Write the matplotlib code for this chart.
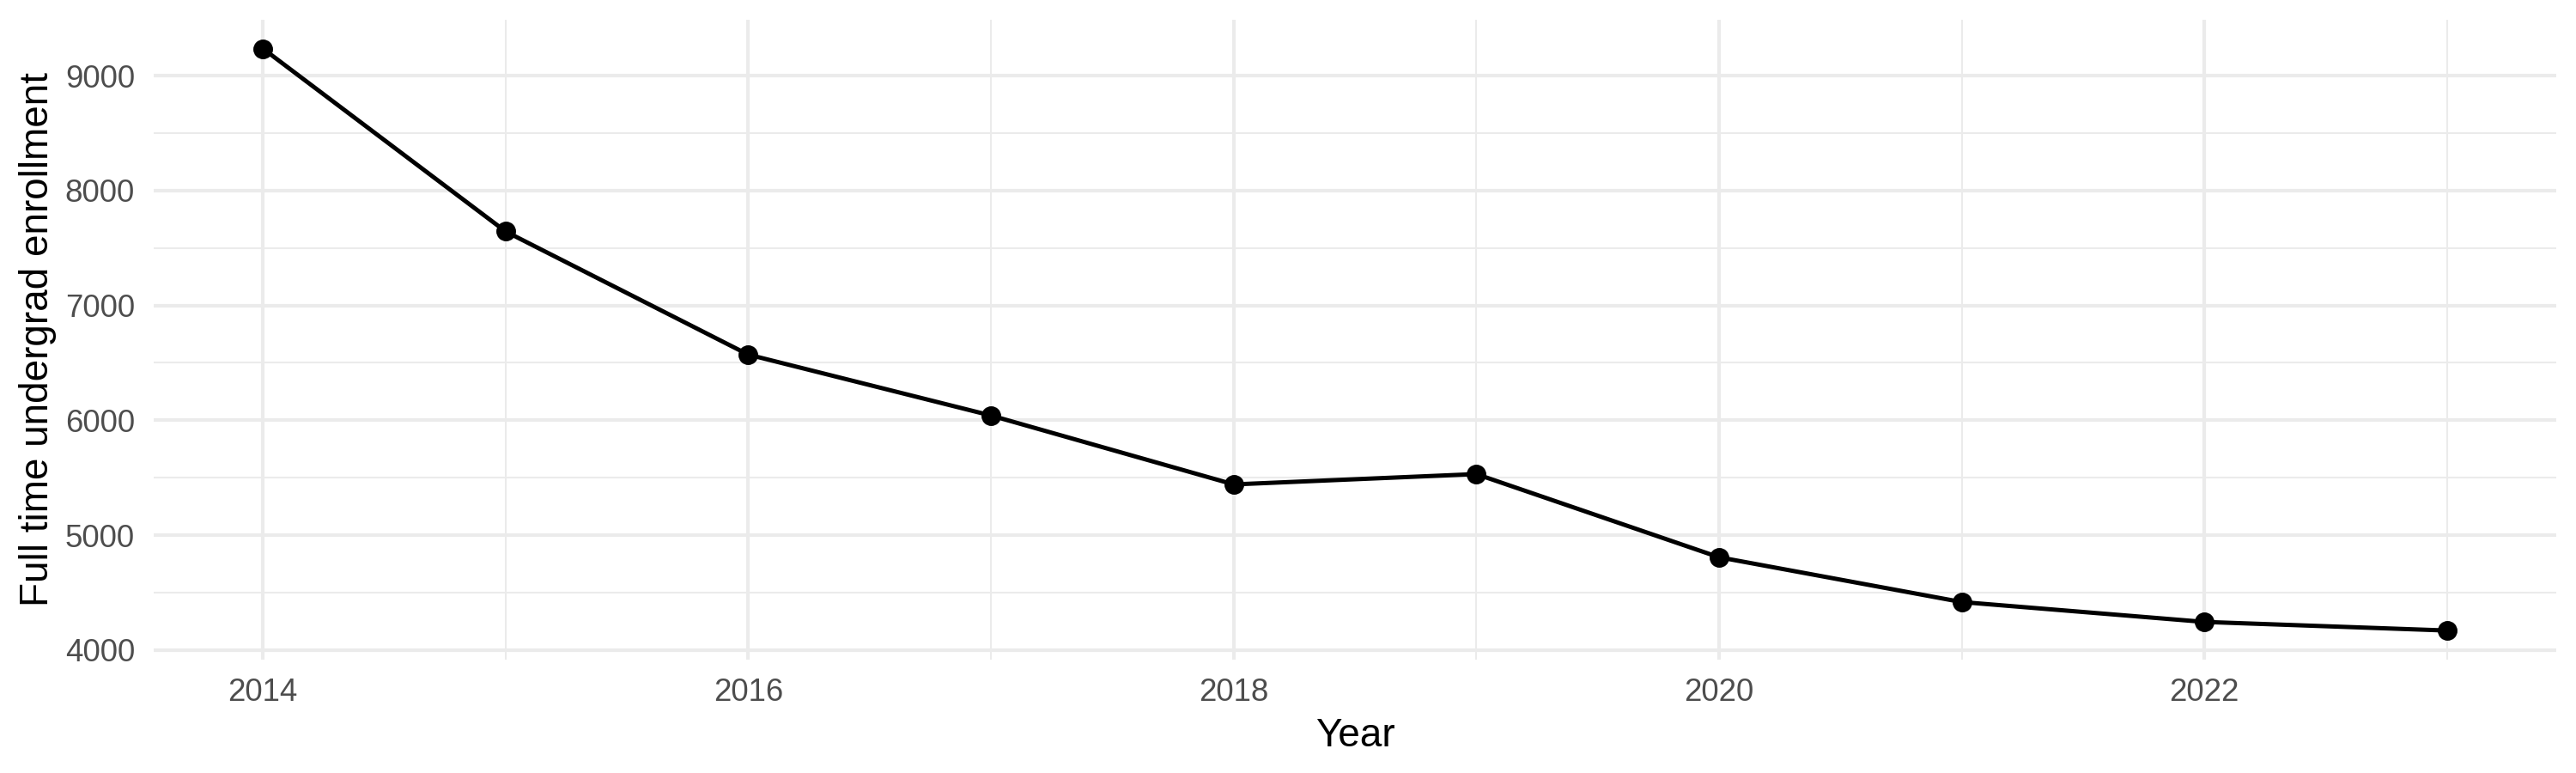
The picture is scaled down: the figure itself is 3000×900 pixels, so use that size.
import matplotlib
matplotlib.use("Agg")
import matplotlib.pyplot as plt
from matplotlib.ticker import MultipleLocator

# enrollment by year
years = [2014, 2015, 2016, 2017, 2018, 2019, 2020, 2021, 2022, 2023]
enrollment = [9236, 7644, 6572, 6042, 5442, 5532, 4808, 4418, 4245, 4170]

x_ticks = [2014, 2016, 2018, 2020, 2022]
y_ticks = [4000, 5000, 6000, 7000, 8000, 9000]

plt.rcParams['font.family'] = ['Liberation Sans', 'DejaVu Sans']

fig = plt.figure(figsize=(10, 3), dpi=300)
ax = fig.add_axes([179 / 3000, 1 - 768 / 900, (2977 - 179) / 3000, (768 - 22.7) / 900])

ax.plot(years, enrollment, color='black', linewidth=1.2, marker='o',
        markersize=4.5, zorder=3)

# ggplot-like 5% expansion
xr = max(years) - min(years)
yr = max(enrollment) - min(enrollment)
ax.set_xlim(min(years) - 0.05 * xr, max(years) + 0.05 * xr)
ax.set_ylim(min(enrollment) - 0.05 * yr, max(enrollment) + 0.05 * yr)

ax.set_xticks(x_ticks)
ax.set_yticks(y_ticks)
ax.xaxis.set_minor_locator(MultipleLocator(1))
ax.yaxis.set_minor_locator(MultipleLocator(500))

ax.grid(which='major', color='#EBEBEB', linewidth=1.0)
ax.grid(which='minor', color='#EBEBEB', linewidth=0.5)
ax.set_axisbelow(True)

for s in ax.spines.values():
    s.set_visible(False)

ax.tick_params(which='both', length=0)
ax.tick_params(axis='x', which='major', pad=5.0, labelsize=8.8, labelcolor='#4D4D4D')
ax.tick_params(axis='y', which='major', pad=5.3, labelsize=8.8, labelcolor='#4D4D4D')

ax.set_xlabel('Year', fontsize=11, color='black')
ax.set_ylabel('Full time undergrad enrollment', fontsize=11, color='black')
ax.xaxis.set_label_coords(0.5, -0.09)
ax.yaxis.set_label_coords(-0.0404, 0.5)

fig.savefig('out.png', dpi=300, facecolor='white')
